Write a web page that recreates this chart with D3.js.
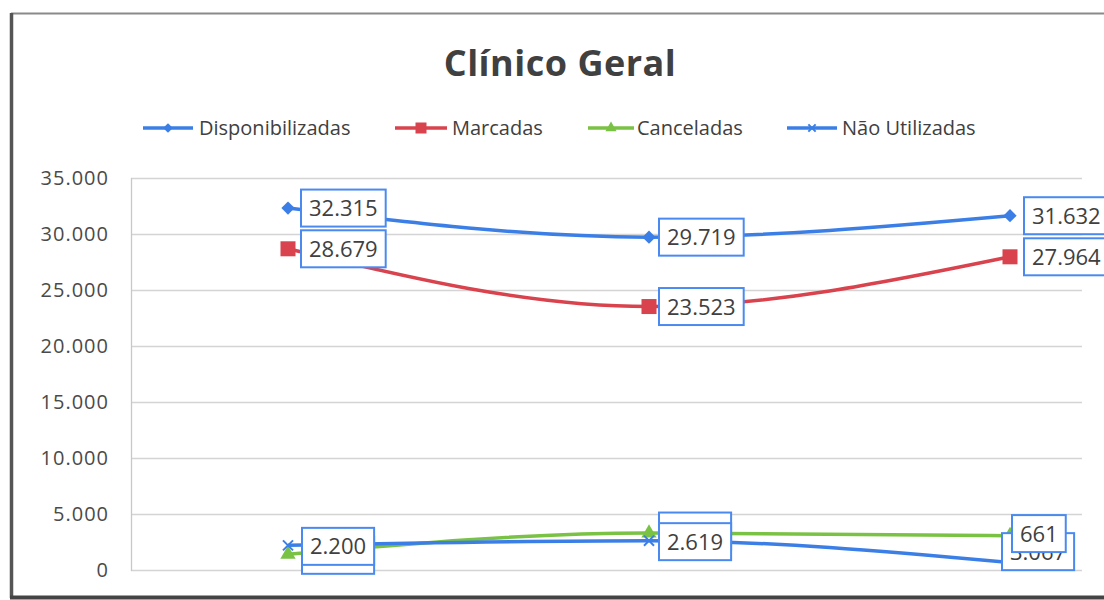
<!DOCTYPE html>
<html>
<head>
<meta charset="utf-8">
<script src="https://cdn.jsdelivr.net/npm/d3@7"></script>
<style>
  html, body { margin: 0; padding: 0; background: #ffffff; }
  svg { display: block; }
  text { font-family: "Open Sans", "Noto Sans", sans-serif; }
</style>
</head>
<body>
<script>
// ---------------- data ----------------
const title = "Clínico Geral";
const categories = ["1", "2", "3"];
const seriesNames = ["Disponibilizadas", "Marcadas", "Canceladas", "Não Utilizadas"];
const disponibilizadas = [32315, 29719, 31632];
const marcadas = [28679, 23523, 27964];
const canceladas = [1400, 3300, 3067];
const naoUtilizadas = [2200, 2619, 661];
const yTicks = [0, 5000, 10000, 15000, 20000, 25000, 30000, 35000];

// ---------------- styling ----------------
const W = 1104, H = 600;
const plot = { left: 131, right: 1082, top: 178, bottom: 570 };
const xRange = [288, 1010];
const styles = [
  { color: "#3b7fe6", marker: "diamond" },
  { color: "#d8434d", marker: "square" },
  { color: "#7ac243", marker: "triangle" },
  { color: "#3b7fe6", marker: "cross" }
];
// label offsets [dx from point to box left, dy from point to box centre]
const labelOffsets = [
  [[13, 0], [10, 0], [14, 0]],
  [[13, 0], [10, 0], [14, 0]],
  [[14, 1], [10, -2], [-8, 16]],
  [[14, 1], [10, 1], [2, -29]]
];
const legendX = [[143, 193, 199], [395, 447, 452], [588, 634, 637], [787, 837, 842]];

const ptBR = d3.formatLocale({ decimal: ",", thousands: ".", grouping: [3], currency: ["R$", ""] });
const fmt = ptBR.format(",d");

const data = [disponibilizadas, marcadas, canceladas, naoUtilizadas];

const svg = d3.select("body").append("svg").attr("width", W).attr("height", H);

// chart frame
svg.append("rect").attr("x", 0).attr("y", 0).attr("width", W).attr("height", H).attr("fill", "#fff");
svg.append("line").attr("x1", 11).attr("x2", W + 5).attr("y1", 13.5).attr("y2", 13.5)
  .attr("stroke", "#8a8a8a").attr("stroke-width", 2);
svg.append("line").attr("x1", 11.5).attr("x2", 11.5).attr("y1", 13).attr("y2", 598)
  .attr("stroke", "#555").attr("stroke-width", 3.5);
svg.append("line").attr("x1", 10).attr("x2", W + 5).attr("y1", 597.5).attr("y2", 597.5)
  .attr("stroke", "#444").attr("stroke-width", 4);

// title
svg.append("text").attr("x", 560).attr("y", 76).attr("text-anchor", "middle")
  .attr("font-size", 36).attr("font-weight", "bold").attr("fill", "#404040")
  .attr("letter-spacing", 0.5).text(title);

// scales
const x = d3.scalePoint().domain(categories).range(xRange);
const y = d3.scaleLinear().domain([0, 35000]).range([plot.bottom, plot.top]);

// gridlines
svg.append("g").selectAll("line").data(yTicks).join("line")
  .attr("x1", plot.left).attr("x2", plot.right)
  .attr("y1", d => y(d) + 0.5).attr("y2", d => y(d) + 0.5)
  .attr("stroke", "#d4d4d4").attr("stroke-width", 1.3);
// plot area left border
svg.append("line").attr("x1", plot.left + 0.5).attr("x2", plot.left + 0.5)
  .attr("y1", plot.top).attr("y2", plot.bottom + 1).attr("stroke", "#c8c8c8").attr("stroke-width", 1.3);

// y axis labels
const yAxis = d3.axisLeft(y).tickValues(yTicks).tickFormat(fmt).tickSize(0).tickPadding(0);
const gy = svg.append("g").attr("transform", `translate(109,0)`).call(yAxis);
gy.select(".domain").remove();
gy.selectAll("text").attr("font-size", 20).attr("fill", "#4a4a4a")
  .attr("font-family", "'Open Sans', sans-serif").attr("letter-spacing", 1);

// marker drawing
function drawMarker(g, type, color, cx, cy, s) {
  if (type === "diamond") {
    g.append("path").attr("d", d3.symbol(d3.symbolDiamond2, s * s * 0.5)())
      .attr("transform", `translate(${cx},${cy})`).attr("fill", color);
  } else if (type === "square") {
    g.append("rect").attr("x", cx - s / 2).attr("y", cy - s / 2).attr("width", s).attr("height", s).attr("fill", color);
  } else if (type === "triangle") {
    g.append("path").attr("d", d3.symbol(d3.symbolTriangle, s * s * 0.45)())
      .attr("transform", `translate(${cx},${cy})`).attr("fill", color);
  } else {
    g.append("path").attr("d", d3.symbol(d3.symbolTimes, s * s * 0.3)())
      .attr("transform", `translate(${cx},${cy})`).attr("fill", "none").attr("stroke", color).attr("stroke-width", 2);
  }
}

// lines
const line = d3.line().x((d, i) => x(categories[i])).y(d => y(d)).curve(d3.curveMonotoneX);
const gLines = svg.append("g");
data.forEach((vals, si) => {
  gLines.append("path").datum(vals).attr("d", line).attr("fill", "none")
    .attr("stroke", styles[si].color).attr("stroke-width", 3.5);
});
data.forEach((vals, si) => {
  vals.forEach((v, i) => drawMarker(gLines, styles[si].marker, styles[si].color, x(categories[i]), y(v), 15));
});

// data labels
const gLabels = svg.append("g");
data.forEach((vals, si) => {
  vals.forEach((v, i) => {
    const [dx, dy] = labelOffsets[si][i];
    const g = gLabels.append("g");
    const t = g.append("text").attr("font-size", 22).attr("fill", "#404040").text(fmt(v));
    const tw = t.node().getComputedTextLength();
    const bw = tw + 16, bh = 37;
    const bx = x(categories[i]) + dx, cy = y(v) + dy;
    g.insert("rect", "text").attr("x", bx).attr("y", cy - bh / 2).attr("width", bw).attr("height", bh)
      .attr("fill", "#fff").attr("stroke", "#4a8af0").attr("stroke-width", 2);
    t.attr("x", bx + 8).attr("y", cy + 8);
  });
});

// legend
const gLeg = svg.append("g");
seriesNames.forEach((name, si) => {
  const [x1, x2, tx] = legendX[si];
  gLeg.append("line").attr("x1", x1).attr("x2", x2).attr("y1", 128).attr("y2", 128)
    .attr("stroke", styles[si].color).attr("stroke-width", 3.5);
  drawMarker(gLeg, styles[si].marker, styles[si].color, (x1 + x2) / 2, 128, 11);
  gLeg.append("text").attr("x", tx).attr("y", 135).attr("font-size", 20).attr("fill", "#404040").text(name);
});
</script>
</body>
</html>
